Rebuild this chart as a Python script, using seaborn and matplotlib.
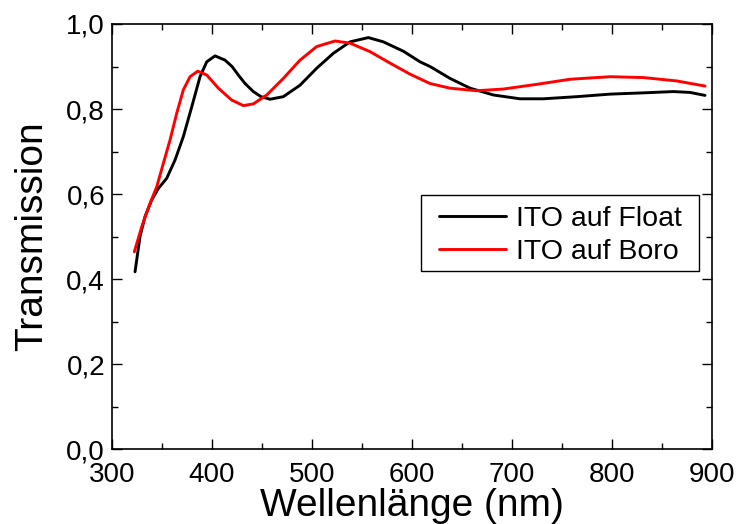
import matplotlib
matplotlib.use("Agg")
import matplotlib.pyplot as plt
from matplotlib.ticker import MultipleLocator, FixedLocator
from matplotlib.patches import Rectangle
import seaborn as sns
import pandas as pd

# ---- data ----
float_x = [323, 328, 333, 339.7, 346.3, 354.7, 363, 371.3, 379.7, 388, 394.7, 403, 413,
           420, 426.3, 433, 441.3, 449, 458, 471.3, 488, 504.7, 521.3, 538, 556.3, 571.3,
           591.3, 608, 618, 638, 658, 681.3, 708, 731.3, 764.7, 798, 831.3, 861.3, 878, 893]
float_y = [0.417, 0.500, 0.547, 0.586, 0.613, 0.637, 0.680, 0.735, 0.805, 0.876, 0.911,
           0.925, 0.915, 0.900, 0.880, 0.860, 0.841, 0.829, 0.823, 0.829, 0.856, 0.896,
           0.931, 0.958, 0.968, 0.958, 0.936, 0.911, 0.900, 0.872, 0.849, 0.833, 0.824,
           0.824, 0.829, 0.835, 0.838, 0.841, 0.839, 0.832]

boro_x = [322.3, 329.7, 338, 344.7, 351.3, 358, 364.7, 371.3, 378, 385.7, 394.7, 406.3,
          419.7, 431.3, 441.3, 454.7, 471.3, 488, 504.7, 523, 538, 558, 578, 598, 618,
          638, 664.7, 691.3, 724.7, 758, 798, 831.3, 864.7, 893]
boro_y = [0.464, 0.523, 0.578, 0.617, 0.672, 0.727, 0.790, 0.845, 0.876, 0.889, 0.880,
          0.849, 0.821, 0.808, 0.812, 0.833, 0.872, 0.915, 0.947, 0.960, 0.955, 0.935,
          0.908, 0.882, 0.860, 0.849, 0.843, 0.847, 0.858, 0.870, 0.876, 0.874, 0.866, 0.854]

series_names = ["ITO auf Float", "ITO auf Boro"]
series_colors = ["#000000", "#ff0000"]

x_ticks = [300, 400, 500, 600, 700, 800, 900]
x_ticklabels = ["300", "400", "500", "600", "700", "800", "900"]
y_ticks = [0.0, 0.2, 0.4, 0.6, 0.8, 1.0]
y_ticklabels = ["0,0", "0,2", "0,4", "0,6", "0,8", "1,0"]

df = pd.concat([
    pd.DataFrame({"x": float_x, "y": float_y, "s": series_names[0]}),
    pd.DataFrame({"x": boro_x, "y": boro_y, "s": series_names[1]}),
], ignore_index=True)

sns.set_style("ticks")
plt.rcParams["font.family"] = ["Liberation Sans", "DejaVu Sans"]
plt.rcParams["text.color"] = "black"
plt.rcParams["axes.labelcolor"] = "black"

fig = plt.figure(figsize=(7.38, 5.24), dpi=100)
ax = fig.add_axes([0.1518, 0.1431, 0.813, 0.8111])

sns.lineplot(data=df, x="x", y="y", hue="s", palette=series_colors,
             hue_order=series_names, sort=False, estimator=None,
             linewidth=2.1, ax=ax)
for ln in ax.get_lines():
    ln.set_solid_joinstyle("round")
    ln.set_solid_capstyle("round")

ax.set_xlim(300, 900)
ax.set_ylim(0.0, 1.0)
ax.xaxis.set_major_locator(FixedLocator(x_ticks))
ax.set_xticklabels(x_ticklabels)
ax.yaxis.set_major_locator(FixedLocator(y_ticks))
ax.set_yticklabels(y_ticklabels)
ax.xaxis.set_minor_locator(MultipleLocator(50))
ax.yaxis.set_minor_locator(MultipleLocator(0.1))
ax.tick_params(which="both", direction="in", top=True, right=True,
               width=1.0, colors="black", labelsize=20)
ax.tick_params(axis="x", pad=9)
ax.tick_params(axis="y", pad=5)
ax.tick_params(which="major", length=7)
ax.tick_params(which="minor", length=4.5)
for sp in ax.spines.values():
    sp.set_linewidth(1.2)
    sp.set_color("black")

ax.set_xlabel("Wellenlänge (nm)", fontsize=28, labelpad=0, color="black")
ax.set_ylabel("Transmission", fontsize=28, labelpad=12, color="black")

# legend frame (square box) and legend entries
ax.add_patch(Rectangle((0.515, 0.419), 0.463, 0.179, transform=ax.transAxes,
                       facecolor="white", edgecolor="black", linewidth=1.0, zorder=4))
leg = ax.legend(loc="center", bbox_to_anchor=(0.7467, 0.502), fontsize=20.5,
                frameon=False, handlelength=2.35, borderpad=0.3, labelspacing=0.25,
                handletextpad=0.35, borderaxespad=0, labelcolor="black")
leg.set_zorder(5)

fig.savefig("out.png", dpi=100)
